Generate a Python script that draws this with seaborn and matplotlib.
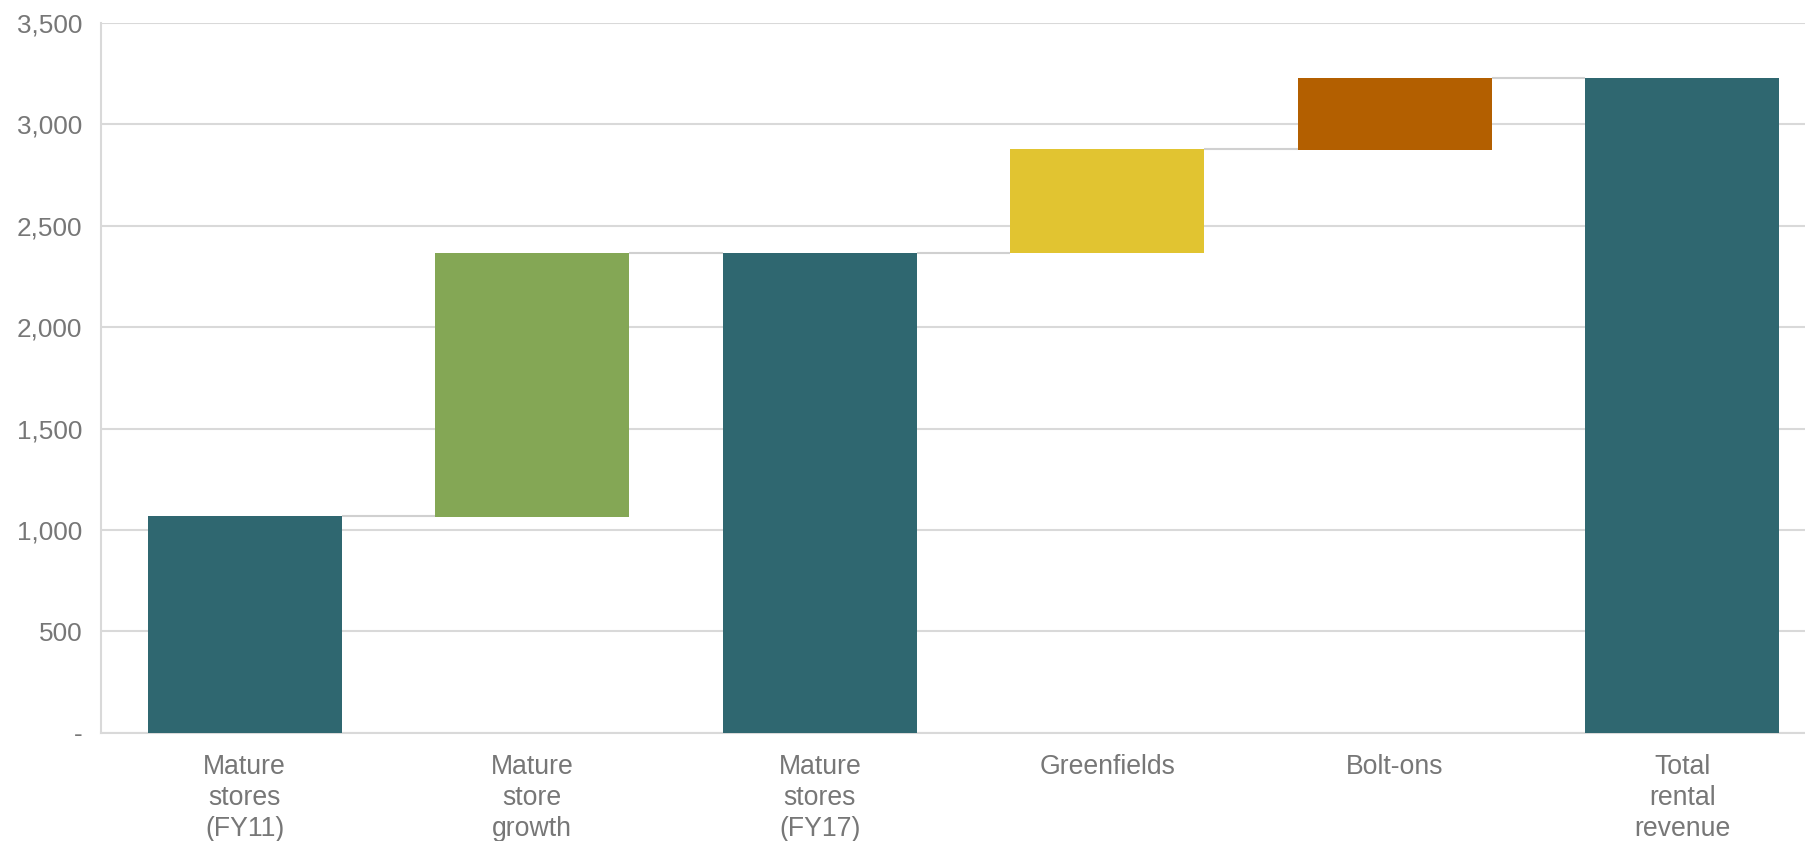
import matplotlib
matplotlib.use("Agg")
import matplotlib.pyplot as plt
import seaborn as sns
import pandas as pd
import numpy as np

categories = ["Mature\nstores\n(FY11)", "Mature\nstore\ngrowth", "Mature\nstores\n(FY17)",
              "Greenfields", "Bolt-ons", "Total\nrental\nrevenue"]
bar_bottom = [0, 1065, 0, 2365, 2872, 0]
bar_top = [1068, 2368, 2368, 2877, 3230, 3230]
colors = ["#2F6770", "#84A755", "#2F6770", "#E1C431", "#B35F00", "#2F6770"]
yticks = [0, 500, 1000, 1500, 2000, 2500, 3000, 3500]
ytick_labels = ["-", "500", "1,000", "1,500", "2,000", "2,500", "3,000", "3,500"]

sns.set_theme(style="white")
plt.rcParams["font.family"] = ["Liberation Sans", "DejaVu Sans"]

df = pd.DataFrame({"cat": categories,
                   "height": np.array(bar_top) - np.array(bar_bottom),
                   "bottom": bar_bottom})

fig = plt.figure(figsize=(18.06, 8.41), dpi=100)
ax = fig.add_axes([0.0559, 0.1288, 0.9441, 0.8439])

width = 0.675
sns.barplot(data=df, x="cat", y="height", color=colors[0],
            bottom=np.array(bar_bottom), width=width, ax=ax, saturation=1, zorder=3,
            edgecolor="none", linewidth=0)
for patch, c in zip(ax.patches, colors):
    patch.set_facecolor(c)

# connectors
for i in range(len(categories) - 1):
    lvl = bar_top[i]
    ax.hlines(lvl, i + width / 2, i + 1 - width / 2, color="#D0D0D0", lw=1.5, zorder=2)

ax.set_ylim(0, 3500)
ax.set_xlim(-0.5, 5.43)
ax.set_yticks(yticks)
ax.set_yticklabels(ytick_labels)
ax.grid(axis="y", color="#D9D9D9", lw=1.5, zorder=0)
ax.set_axisbelow(True)
for s in ["top", "right"]:
    ax.spines[s].set_visible(False)
for s in ["left", "bottom"]:
    ax.spines[s].set_color("#D9D9D9")
    ax.spines[s].set_linewidth(1.5)
ax.tick_params(axis="both", length=0, colors="#777777")
ax.tick_params(axis="x", pad=15, labelsize=19.2)
ax.tick_params(axis="y", pad=13.5, labelsize=18.8)
for lbl in ax.get_xticklabels():
    lbl.set_linespacing(1.25)
ax.set_xlabel("")
ax.set_ylabel("")

fig.savefig("out.png", dpi=100)
